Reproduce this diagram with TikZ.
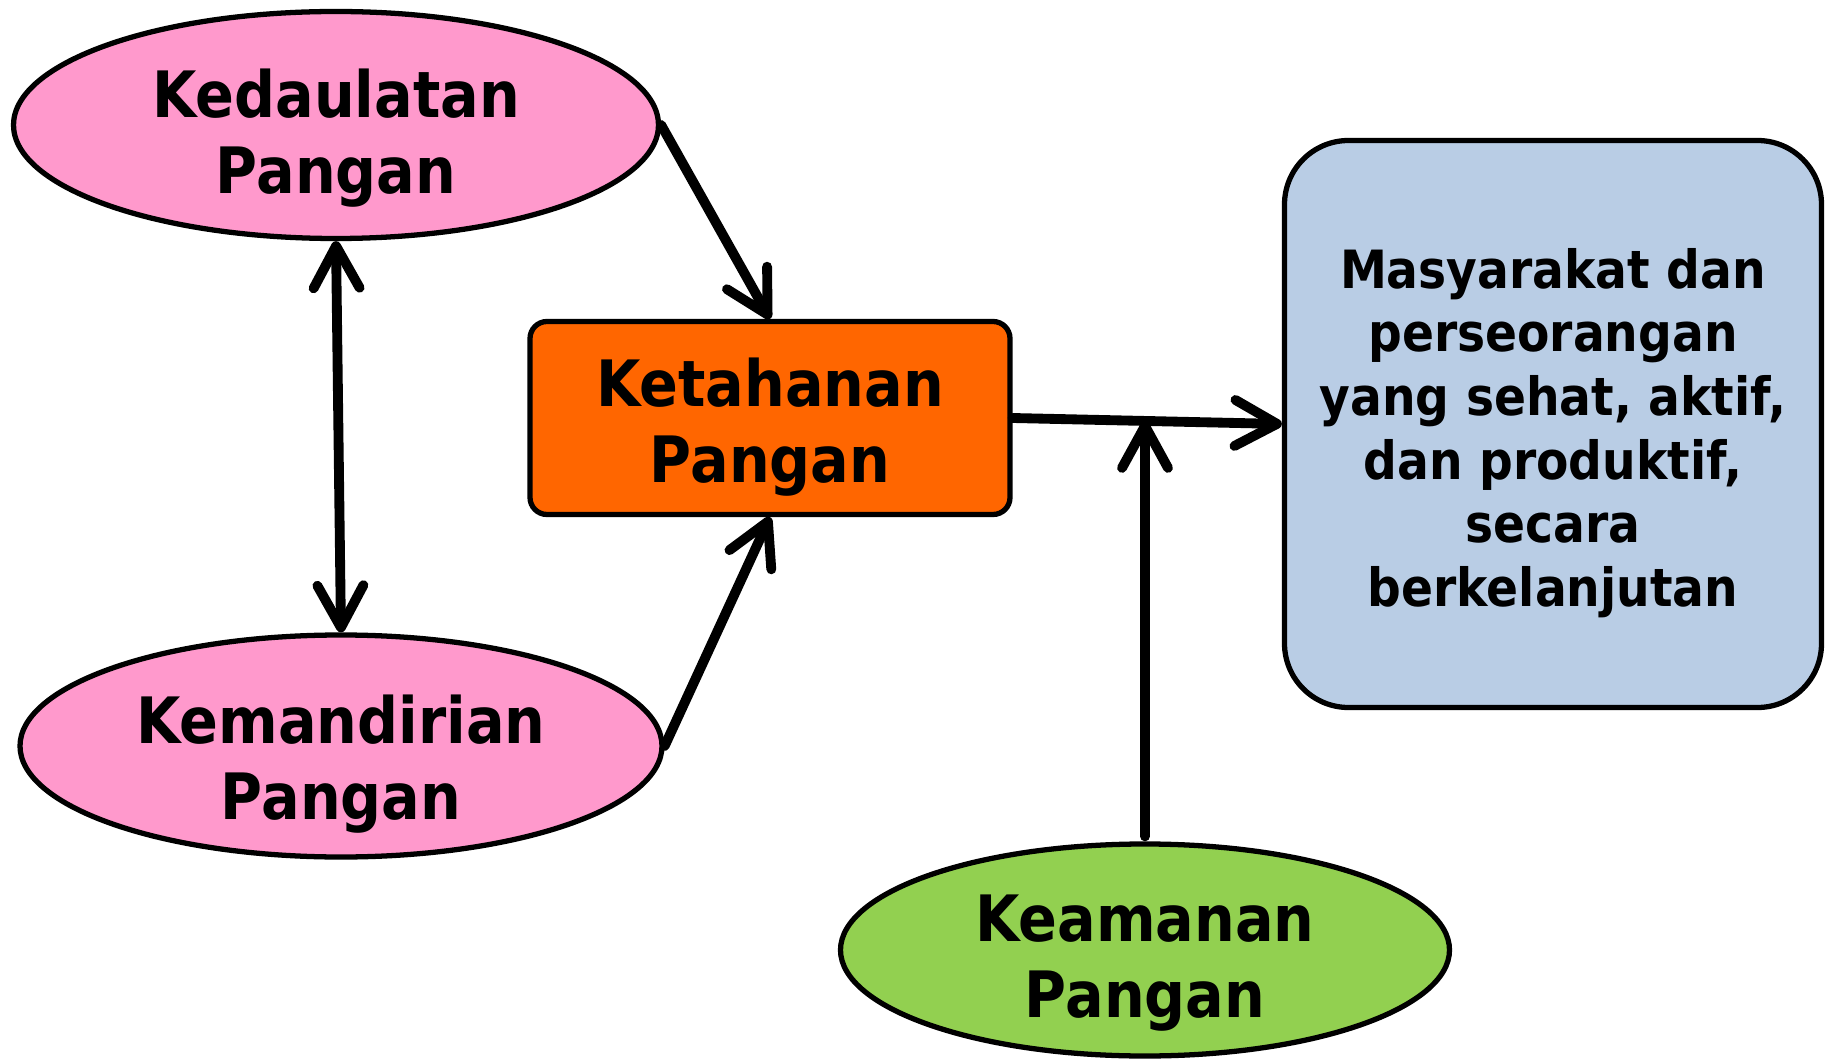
\documentclass[tikz,border=0pt]{standalone}
\usepackage{fontspec}
\setmainfont{DejaVu Sans}[FakeStretch=0.895]
\usetikzlibrary{shapes.geometric,arrows.meta,calc}
\definecolor{pinkfill}{HTML}{FF99CC}
\definecolor{orangefill}{HTML}{FF6600}
\definecolor{greenfill}{HTML}{92D050}
\definecolor{bluefill}{HTML}{B9CDE5}
\newcommand{\mainlabelfont}{\bfseries\fontsize{18.2}{21.5}\selectfont}
\newcommand{\goallabelfont}{\bfseries\fontsize{15}{18.1}\selectfont}
\newcommand{\toppad}[1]{\rule{0pt}{#1}}

\begin{document}
\begin{tikzpicture}[pink_node/.style={ellipse,fill=pinkfill,draw,line width=1.5pt,align=center,font=\mainlabelfont,inner xsep=0pt,inner ysep=-0.3cm},green_node/.style={ellipse,fill=greenfill,draw,line width=1.5pt,align=center,font=\mainlabelfont,inner xsep=0pt,inner ysep=-0.3cm},main_node/.style={rectangle,rounded corners=0.17cm,fill=orangefill,draw,line width=1.5pt,align=center,font=\mainlabelfont,inner sep=0pt},goal_node/.style={rectangle,rounded corners=0.64cm,fill=bluefill,draw,line width=1.5pt,align=center,font=\goallabelfont,inner sep=0pt},arrow_line/.style={line width=2.8pt,line cap=round},>={Straight Barb[length=0.42cm,width=0.46cm,round]}]

		\useasboundingbox (0,0) rectangle (18.33,-10.60);

		\node[pink_node,minimum width=6.45cm,minimum height=2.27cm] (ked) at (3.36,-1.25) {\toppad{0.75cm}Kedaulatan\\Pangan};
		\node[pink_node,minimum width=6.42cm,minimum height=2.22cm] (kem) at (3.41,-7.46) {\toppad{0.85cm}Kemandirian\\Pangan};
		\node[main_node,minimum width=4.80cm,minimum height=1.93cm] (keta) at (7.70,-4.18) {\toppad{0.67cm}Ketahanan\\Pangan};
		\node[goal_node,minimum width=5.37cm,minimum height=5.67cm] (masy) at (15.53,-4.24) {\toppad{0.58cm}Masyarakat dan\\perseorangan\\yang sehat, aktif,\\dan produktif,\\secara\\berkelanjutan};
		\node[green_node,minimum width=6.09cm,minimum height=2.12cm] (kea) at (11.45,-9.50) {\toppad{0.73cm}Keamanan\\Pangan};

		\coordinate (mid) at ($(keta.east)!0.5!(masy.west)$);

		\draw[arrow_line,<->] (ked.south) -- (kem.north);
		\draw[arrow_line,->] (ked.east) -- (keta.north);
		\draw[arrow_line,->] (kem.east) -- (keta.south);
		\draw[arrow_line,->] (keta.east) -- (masy.west);
		\draw[arrow_line,->] ([yshift=0.05cm]kea.north) -- (kea.north |- mid);
		\end{tikzpicture}
\end{document}
